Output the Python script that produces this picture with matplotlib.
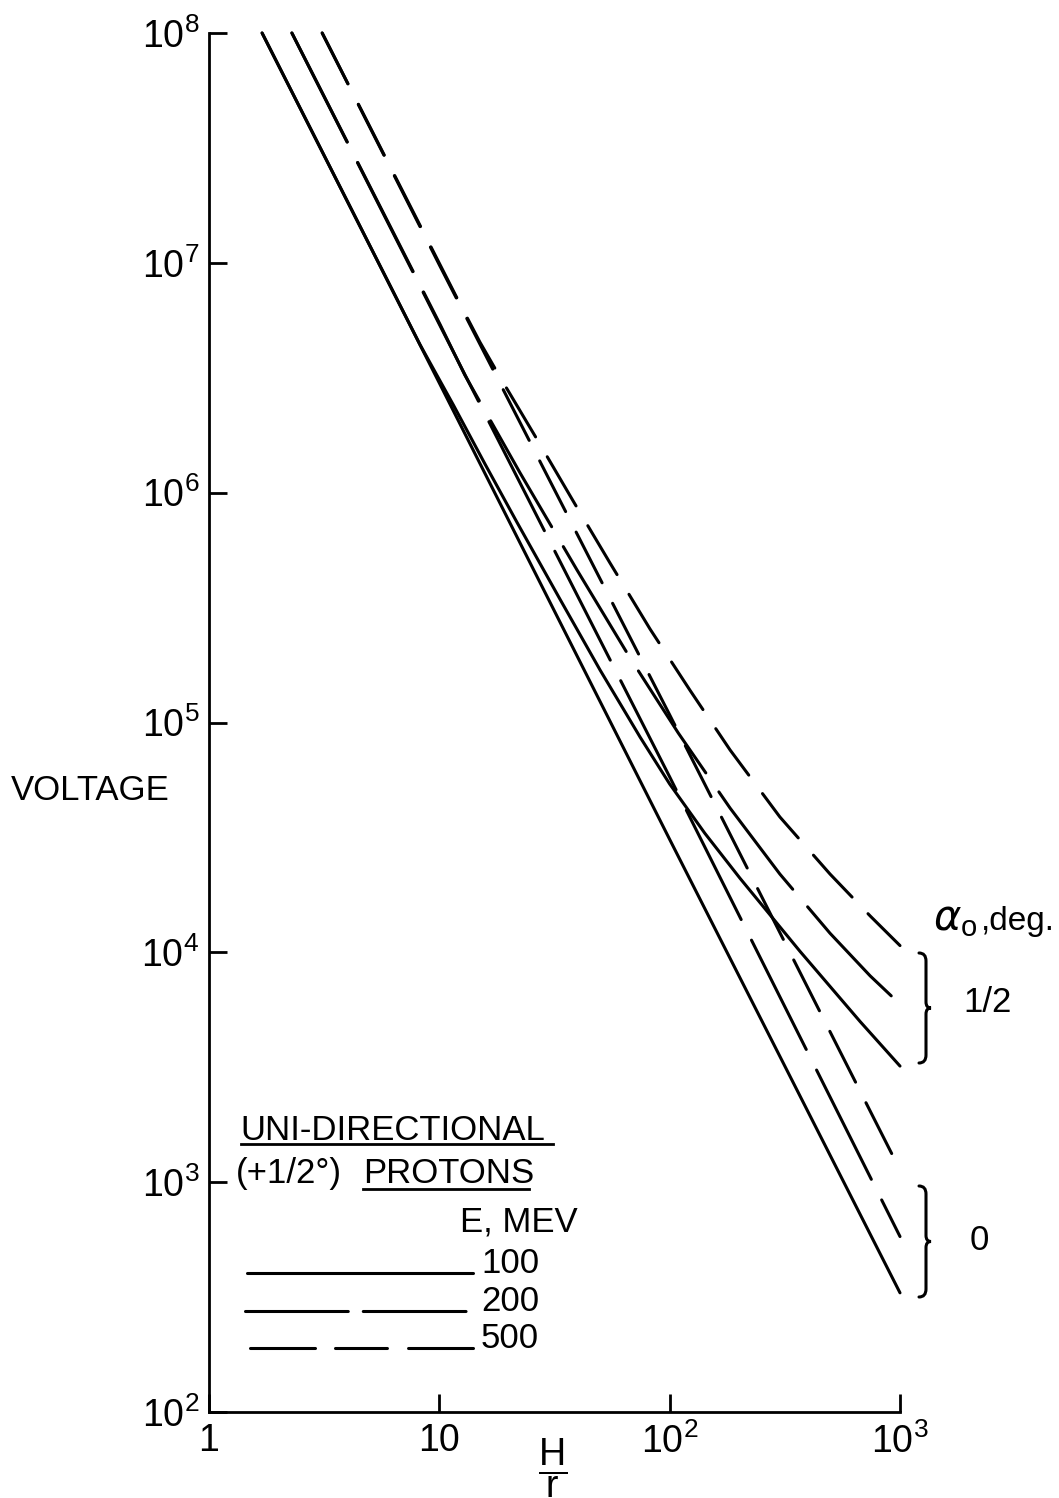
'Voltage vs H/r for uni-directional protons'
import numpy as np
import matplotlib
matplotlib.use('Agg')
import matplotlib.pyplot as plt
from matplotlib.path import Path
from matplotlib.patches import PathPatch
from matplotlib.lines import Line2D
from matplotlib.transforms import Affine2D
from matplotlib.ticker import FixedLocator, FuncFormatter, NullLocator

plt.rcParams['font.family'] = ['Liberation Sans', 'DejaVu Sans']
plt.rcParams['mathtext.fontset'] = 'dejavusans'
plt.rcParams['lines.scale_dashes'] = False

# alpha0 = 0 deg (straight in log-log)
hr_a0_100 = [1.7, 10, 100, 1000]
v_a0_100 = [1e8, 3.0e6, 3.1e4, 330]
hr_a0_200 = [2.29, 10, 100, 1000]
v_a0_200 = [1e8, 5.4e6, 5.8e4, 580]
hr_a0_500 = [3.1, 10, 100, 1000]
v_a0_500 = [1e8, 9.8e6, 1.08e5, 1130]

# alpha0 = 1/2 deg (bending away at large H/r)
hr_a12_100 = [1.7, 8.25, 11.5, 15.8, 21.7, 33.4, 49.9, 74.4, 100, 142, 202, 368, 671, 1000]
v_a12_100 = [1e8, 4.4e6, 2.41e6, 1.33e6, 7.45e5, 3.44e5, 1.69e5, 8.64e4, 5.4e4, 3.3e4,
             2.1e4, 1.01e4, 5.0e3, 3.2e3]
hr_a12_200 = [2.29, 10.07, 12.9, 22.4, 39.6, 67.3, 109, 183, 301, 497, 742, 1000]
v_a12_200 = [1e8, 5.4e6, 3.25e6, 1.22e6, 4.61e5, 1.91e5, 9.0e4, 4.24e4, 2.19e4, 1.21e4,
             7.9e3, 5.95e3]
hr_a12_500 = [3.1, 12.3, 15.0, 18.35, 26.8, 38.8, 55.1, 82.2, 122.6, 183, 301, 497, 742, 1000]
v_a12_500 = [1e8, 6.62e6, 4.52e6, 3.18e6, 1.68e6, 8.92e5, 4.94e5, 2.55e5, 1.38e5, 7.59e4,
             3.88e4, 2.19e4, 1.44e4, 1.07e4]

energies = ['100', '200', '500']
x_ticks = [1, 10, 100, 1000]
y_ticks = [1e2, 1e3, 1e4, 1e5, 1e6, 1e7, 1e8]

W, H = 1059, 1498
LW = 2.2
styles = {'100': '-', '200': (0, (88, 16.6)), '500': (0, (41, 16.6))}
legend_styles = {'100': '-', '200': (0, (74, 10.8)), '500': (0, (46.8, 14.4, 37.4, 15.2))}

fig = plt.figure(figsize=(W / 100, H / 100), dpi=100)
ax = fig.add_axes([209 / W, 1 - 1412 / H, (900 - 209) / W, (1412 - 33) / H])
ax.set_xscale('log')
ax.set_yscale('log')
ax.set_xlim(1, 1000)
ax.set_ylim(1e2, 1e8)

curves = [(hr_a0_100, v_a0_100, '100'), (hr_a0_200, v_a0_200, '200'),
          (hr_a0_500, v_a0_500, '500'), (hr_a12_100, v_a12_100, '100'),
          (hr_a12_200, v_a12_200, '200'), (hr_a12_500, v_a12_500, '500')]
for hr, v, e in curves:
    ax.plot(hr, v, color='black', lw=LW, linestyle=styles[e], dash_capstyle='round',
            solid_capstyle='round', solid_joinstyle='round', clip_on=False)

# axes look
for s in ['top', 'right']:
    ax.spines[s].set_visible(False)
for s in ['left', 'bottom']:
    ax.spines[s].set_linewidth(2)


def fmt(v, pos):
    k = int(round(np.log10(v)))
    if k == 0:
        return '1'
    if k == 1:
        return '10'
    return r'$\mathregular{10^{%d}}$' % k


ax.xaxis.set_major_locator(FixedLocator(x_ticks))
ax.yaxis.set_major_locator(FixedLocator(y_ticks))
ax.xaxis.set_minor_locator(NullLocator())
ax.yaxis.set_minor_locator(NullLocator())
ax.xaxis.set_major_formatter(FuncFormatter(fmt))
ax.yaxis.set_major_formatter(FuncFormatter(fmt))
ax.tick_params(direction='in', length=13, width=2, labelsize=27)
ax.tick_params(axis='x', pad=8)
ax.tick_params(axis='y', pad=7)

# helpers in pixel coords of the figure
def fx(x):
    return x / W


def fy(y):
    return 1 - y / H


def hline(x0, x1, y, **kw):
    fig.add_artist(Line2D([fx(x0), fx(x1)], [fy(y), fy(y)], transform=fig.transFigure,
                          color='black', **kw))


FS = 25
fig.text(fx(90), fy(791), 'VOLTAGE', ha='center', va='center', fontsize=FS)
# H over r
fig.text(fx(553), fy(1468), r'$\dfrac{\mathregular{H}}{\mathregular{r}}$', ha='center',
         va='center', fontsize=27)

# legend block
fig.text(fx(240), fy(1140), 'UNI-DIRECTIONAL', ha='left', va='baseline', fontsize=FS)
hline(241, 553, 1144, lw=2)
fig.text(fx(236), fy(1183), '(+1/2°)', ha='left', va='baseline', fontsize=FS)
fig.text(fx(363), fy(1183), 'PROTONS', ha='left', va='baseline', fontsize=FS)
hline(363, 529, 1189, lw=2)
fig.text(fx(460), fy(1231), 'E, MEV', ha='left', va='baseline', fontsize=FS)
leg_y = [1273, 1311, 1348]
leg_x0 = [247, 245, 250]
for e, y, x0 in zip(energies, leg_y, leg_x0):
    hline(x0, 473, y, lw=LW, linestyle=legend_styles[e], dash_capstyle='round',
          solid_capstyle='round')
    fig.text(fx(481), fy(y), e, ha='left', va='baseline', fontsize=FS)

# right side annotations
fig.text(fx(933), fy(930), r'$\alpha_{\mathregular{o}}$', ha='left', va='baseline',
         fontsize=30)
fig.text(fx(981), fy(930), ',deg.', ha='left', va='baseline', fontsize=24)
fig.text(fx(988), fy(1002), '1/2', ha='center', va='center', fontsize=FS)
fig.text(fx(979), fy(1240), '0', ha='center', va='center', fontsize=FS)

px_tr = Affine2D().scale(1 / W, -1 / H).translate(0, 1) + fig.transFigure


def brace(x, y0, y1):
    ym = (y0 + y1) / 2
    verts = [(x - 7, y0), (x, y0), (x, y0 + 8), (x, ym - 6), (x, ym), (x + 5, ym),
             (x, ym), (x, ym + 6), (x, y1 - 8), (x, y1), (x - 7, y1)]
    codes = [Path.MOVETO, Path.CURVE3, Path.CURVE3, Path.LINETO, Path.CURVE3, Path.CURVE3,
             Path.CURVE3, Path.CURVE3, Path.LINETO, Path.CURVE3, Path.CURVE3]
    fig.add_artist(PathPatch(Path(verts, codes), transform=px_tr, fill=False, lw=2.2,
                             edgecolor='black', capstyle='round'))


brace(926, 953, 1063)
brace(926, 1186, 1297)

plt.savefig('out.png', dpi=100)
